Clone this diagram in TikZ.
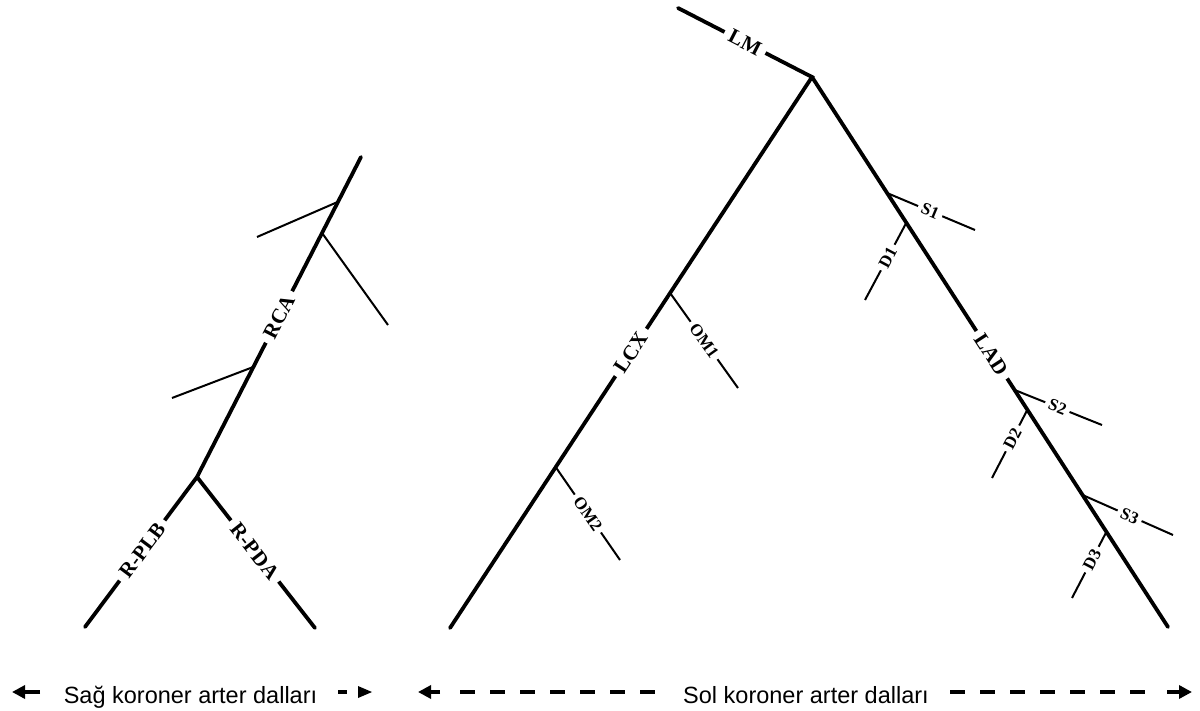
\documentclass[tikz,border=0pt]{standalone}
\usepackage{fontspec}
\setmainfont{Liberation Serif}
\newfontfamily\capsans{Liberation Sans}
\usetikzlibrary{calc,arrows.meta}
\begin{document}
\begin{tikzpicture}[x=1pt,y=-1pt,
  artery/.style={line width=3.8pt, line cap=round, line join=miter},
  twig/.style={line width=2pt},
  bigtag/.style={fill=white, sloped, inner xsep=6pt, inner ysep=1pt, font=\fontsize{21}{21}\selectfont\bfseries},
  smalltag/.style={fill=white, sloped, inner xsep=4pt, inner ysep=1pt, font=\fontsize{17}{17}\selectfont\bfseries},
  caption/.style={font=\capsans\fontsize{23.5}{24}\selectfont, anchor=base, inner sep=0pt},
  thickarrow/.style={line width=4pt, -{Triangle[length=13pt,width=13pt]}},
  dashline/.style={line width=4pt, dash pattern=on 15pt off 15pt}]
\useasboundingbox (0,0) rectangle (1200,711);

% ---------- right coronary tree ----------
\coordinate (rtop) at (361,157);
\coordinate (rfork) at (197,477);
\coordinate (rplb) at (85,627);
\coordinate (rpda) at (315,628);
\coordinate (rj1) at ($(rtop)!0.14!(rfork)$);
\coordinate (rj2) at ($(rtop)!0.2375!(rfork)$);
\coordinate (rj3) at ($(rtop)!0.656!(rfork)$);
\coordinate (rb1) at (257,237);
\coordinate (rb2) at (388,325);
\coordinate (rb3) at (172,398);
\draw[twig] (rj1) -- (rb1);
\draw[twig] (rj2) -- (rb2);
\draw[twig] (rj3) -- (rb3);
\draw[artery] (rtop) -- (rfork) node[pos=0.5, bigtag] (rca) {RCA};
\draw[artery] (rfork) -- (rplb) node[pos=0.49, bigtag] (plb) {R-PLB};
\draw[artery] (rfork) -- (rpda) node[pos=0.49, bigtag] (pda) {R-PDA};

% ---------- left coronary tree ----------
\coordinate (lmtop) at (678,8);
\coordinate (apex) at (812,77);
\coordinate (lcxend) at (450,628);
\coordinate (ladend) at (1168,627);

\coordinate (om1s) at ($(apex)!0.392!(lcxend)$);
\coordinate (om2s) at ($(apex)!0.708!(lcxend)$);
\coordinate (om1e) at (738,388);
\coordinate (om2e) at (620,560);

\coordinate (s1s) at ($(apex)!0.211!(ladend)$);
\coordinate (d1s) at ($(apex)!0.265!(ladend)$);
\coordinate (s2s) at ($(apex)!0.569!(ladend)$);
\coordinate (d2s) at ($(apex)!0.605!(ladend)$);
\coordinate (s3s) at ($(apex)!0.76!(ladend)$);
\coordinate (d3s) at ($(apex)!0.827!(ladend)$);
\coordinate (s1e) at (975,230);
\coordinate (d1e) at (865,300);
\coordinate (s2e) at (1102,425);
\coordinate (d2e) at (992,478);
\coordinate (s3e) at (1173,535);
\coordinate (d3e) at (1072,598);

\draw[twig] (om1s) -- (om1e) node[pos=0.5, smalltag] (om1) {OM1};
\draw[twig] (om2s) -- (om2e) node[pos=0.5, smalltag] (om2) {OM2};
\draw[twig] (s1s) -- (s1e) node[pos=0.49, smalltag] (s1) {S1};
\draw[twig] (d1s) -- (d1e) node[pos=0.45, smalltag] (d1) {D1};
\draw[twig] (s2s) -- (s2e) node[pos=0.49, smalltag] (s2) {S2};
\draw[twig] (d2s) -- (d2e) node[pos=0.42, smalltag] (d2) {D2};
\draw[twig] (s3s) -- (s3e) node[pos=0.52, smalltag] (s3) {S3};
\draw[twig] (d3s) -- (d3e) node[pos=0.42, smalltag] (d3) {D3};

\draw[artery] (lmtop) -- node[bigtag] (lm) {LM} (apex) -- node[bigtag] (lcx) {LCX} (lcxend);
\draw[artery] (apex) -- (ladend) node[pos=0.505, bigtag] (lad) {LAD};

% ---------- captions ----------
\node[caption] (sag) at (190.5,703) {Sağ koroner arter dalları};
\node[caption] (sol) at (806,703) {Sol koroner arter dalları};

\coordinate (a1s) at (40,692);
\coordinate (a1e) at (12,692);
\draw[thickarrow] (a1s) -- (a1e);
\draw[line width=4pt] (338,692) -- (347,692);
\fill (358,686) -- (372,692) -- (358,698) -- cycle;

\coordinate (a2s) at (440,692);
\coordinate (a2e) at (418,692);
\draw[thickarrow] (a2s) -- (a2e);
\draw[dashline] (460,692) -- (655,692);
\draw[dashline] (950,692) -- (1145,692);
\coordinate (a3s) at (1167,692);
\coordinate (a3e) at (1192,692);
\draw[thickarrow] (a3s) -- (a3e);
\end{tikzpicture}
\end{document}
